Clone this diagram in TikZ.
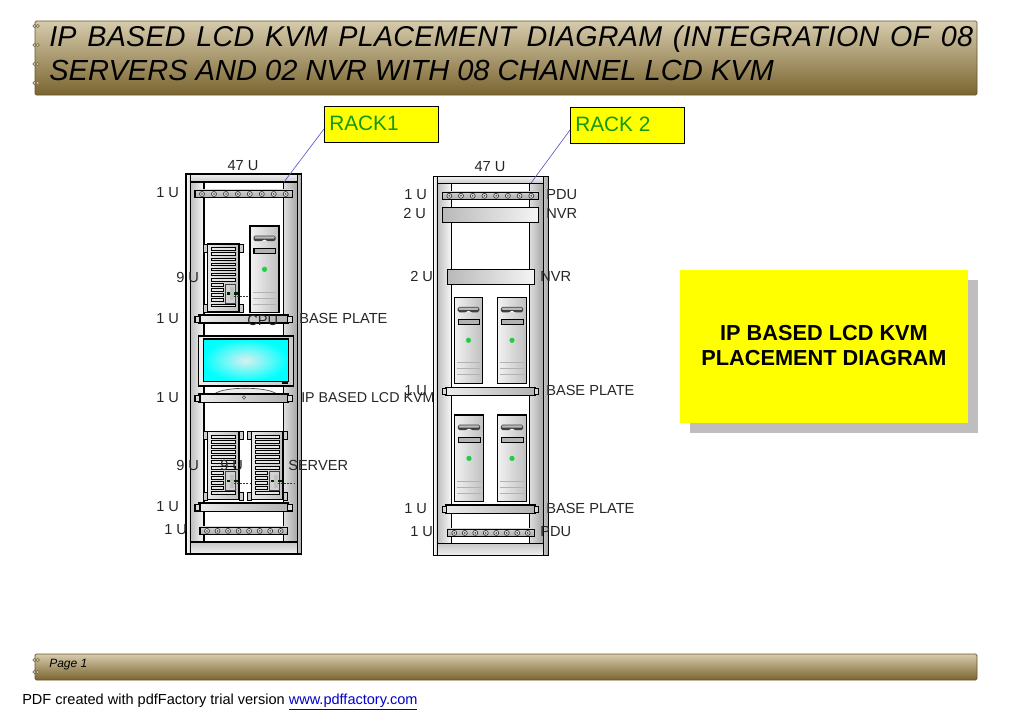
\documentclass[tikz,border=0pt]{standalone}
\usepackage{fontspec}
\setmainfont{Liberation Sans}
\newfontfamily\titlefam[LetterSpace=1,WordSpace=1.3]{Liberation Sans}
\definecolor{tan1}{HTML}{7A6530}
\definecolor{tan0}{HTML}{D6CBAC}
\definecolor{pureyellow}{HTML}{FFFF00}
\definecolor{purecyan}{HTML}{00FFFF}
\definecolor{screenmid}{HTML}{DCEFEF}
\definecolor{shadowgrey}{HTML}{BEBEBE}
\definecolor{ledgreen}{HTML}{22CC44}
\definecolor{racktext}{HTML}{119A11}
\definecolor{leader}{HTML}{5A5ACD}
\definecolor{linkblue}{HTML}{0000CC}
\tikzset{
  lab/.style={font=\fontsize{10.95pt}{12pt}\selectfont,inner sep=0pt,anchor=west,text=black!85,yshift=-0.6pt},
  labc/.style={lab,anchor=center},
  ln/.style={draw=black,line width=0.9pt},
  titletext/.style={inner sep=0pt,anchor=base west,font=\titlefam\fontsize{21.5pt}{24pt}\selectfont\itshape},
  titleplain/.style={inner sep=0pt,anchor=base west,font=\fontsize{21.8pt}{24pt}\selectfont\itshape},
  callout/.style={draw=black,line width=0.7pt,fill=pureyellow,minimum width=114*0.75pt,minimum height=35.5*0.75pt,inner sep=0pt,anchor=north west},
  callouttext/.style={inner sep=0pt,anchor=west,text=racktext,font=\fontsize{15.6pt}{16pt}\selectfont},
}
\newcommand{\rings}[2]{\foreach \ry in {#2}{\draw[tan1!60!gray,line width=0.5pt,fill=tan0!60!white] (#1-1.5,\ry) circle[radius=1.6] (#1+1.7,\ry) circle[radius=1.6];}}
% x0..x5, ytop, ybar, ybarbottom
\newcommand{\rack}[9]{
  \fill[white] (#1,#7) rectangle (#6,#9+12);
  \shade[left color=gray!50,right color=white!95!gray] (#2,#8) rectangle (#3,#9);
  \shade[left color=gray!25,right color=gray!70] (#4,#8) rectangle (#5,#9);
  \shade[left color=white,right color=gray!35] (#1,#7) rectangle (#2,#9+12);
  \shade[left color=gray!45,right color=gray!75] (#5,#7) rectangle (#6,#9+12);
  \shade[top color=gray!12,bottom color=gray!40] (#2,#7) rectangle (#5,#8);
  \shade[top color=gray!45,bottom color=gray!12] (#2,#9) rectangle (#5,#9+12);
  \draw[ln] (#1,#7) rectangle (#6,#9+12);
  \draw[ln] (#2,#7) -- (#2,#9+12) (#5,#7) -- (#5,#9+12);
  \draw[ln] (#2,#8) -- (#5,#8) (#3,#8) -- (#3,#9) (#4,#8) -- (#4,#9) (#2,#9) -- (#5,#9);
}
% x0 y0 x1 y1
\newcommand{\pdu}[4]{
  \shade[top color=gray!35,bottom color=gray!65] (#1,#2) rectangle (#3,#4);
  \draw[black,line width=0.8pt] (#1,#2+1) rectangle (#3,#4);
  \pgfmathsetmacro{\pdustep}{(#3-#1-14)/7}
  \foreach \pi in {0,...,7}{
    \draw[gray!45!black,line width=0.5pt,fill=gray!25] ({#1+7+\pi*\pdustep},{(#2+#4)/2+0.4}) circle[radius=2.5];
    \fill[gray!50!black] ({#1+7+\pi*\pdustep},{(#2+#4)/2+0.4}) circle[radius=0.9];
  }
}
\newcommand{\plate}[5]{% x0 y0 x1 y1 ear
  \shade[left color=gray!15,right color=gray!60] (#1+#5-1,#2) rectangle (#3-#5+1,#4);
  \draw[ln] (#1+#5-1,#2) rectangle (#3-#5+1,#4);
  \draw[ln,fill=gray!30] (#1,#2+1.3) rectangle (#1+#5,#4-0.7);
  \draw[ln,fill=gray!30] (#3-#5,#2+1.3) rectangle (#3,#4-0.7);
}
\newcommand{\slab}[4]{% x0 y0 x1 y1
  \shade[left color=gray!55,right color=gray!8] (#1,#2) rectangle (#3,#4);
  \draw[ln] (#1,#2) rectangle (#3,#4);
}
% tower x y w h
\newcommand{\tower}[4]{
  \begin{scope}[shift={(#1,#2)},xscale=#3/29,yscale=#4/86]
    \shade[left color=gray!10,right color=gray!50] (0,0) rectangle (29,86);
    \draw[ln] (0,0) rectangle (29,86);
    \fill[gray!50!black,rounded corners=1.2pt] (3.5,9.5) rectangle (25.5,15);
    \fill[gray!55,rounded corners=0.6pt] (4.5,10.3) rectangle (24.5,12.6);
    \fill[white] (11,15.2) .. controls (13,13) and (16,13) .. (18,15.2) -- cycle;
    \draw[black,line width=0.9pt,fill=gray!60] (4,22) rectangle (25.5,27);
    \fill[ledgreen] (14.5,43) circle[radius=2.6];
    \draw[gray!60,line width=0.7pt] (3,65.5) -- (26,65.5) (3,71.5) -- (26,71.5) (3,77.5) -- (26,77.5);
  \end{scope}
}
% rack server: x y (31.5 x 68)
\newcommand{\rserver}[2]{
  \begin{scope}[shift={(#1,#2)}]
    \shade[left color=gray!18,right color=gray!50] (0,0) rectangle (31.5,68);
    \draw[ln] (0,0) rectangle (31.5,68);
    \foreach \ex in {-4,31.5}{\foreach \ey in {0,60.5}{
      \draw[black,line width=0.6pt,fill=gray!40] (\ex,\ey) rectangle (\ex+4,\ey+8);}}
    \foreach \sy in {3.5,8.6,14,19,24,29,34.6}{
      \draw[black,line width=0.75pt,fill=gray!20] (3.5,\sy) rectangle (27.5,\sy+2.8);}
    \foreach \sy in {39.6,44.6,49.6,54.6}{
      \draw[black,line width=0.75pt,fill=gray!20] (3.5,\sy) rectangle (16,\sy+2.8);}
    \draw[black,line width=0.75pt,fill=gray!20] (3.5,60) rectangle (27.5,62.8);
    \draw[gray!50!black,line width=0.6pt,fill=gray!35] (17.5,40) rectangle (27.5,59);
    \fill[green!15!black] (19,48) rectangle (30,50.5);
    \fill[gray!50] (22.5,43) rectangle (26,56);
    \draw[gray!40!black,line width=0.7pt,dash pattern=on 1.6pt off 0.8pt] (26,52) -- (43,52);
  \end{scope}
}
\begin{document}
\begin{tikzpicture}[x=0.75pt,y=-0.75pt]
\useasboundingbox (0,0) rectangle (1017,719);
\fill[white] (0,0) rectangle (1017,719);
% header and footer bands
\shade[top color=tan0,bottom color=tan1,rounded corners=1pt] (35,21) rectangle (977,95);
\draw[tan1!85!black,line width=0.5pt,rounded corners=1pt] (35,21) rectangle (977,95);
\rings{36}{26,45,64,83}
\shade[top color=tan0,bottom color=tan1,rounded corners=1pt] (35,654) rectangle (977,680);
\draw[tan1!85!black,line width=0.5pt,rounded corners=1pt] (35,654) rectangle (977,680);
\rings{36}{660,672}
\node[titletext] (titleone) at (49,46) {IP BASED LCD KVM PLACEMENT DIAGRAM (INTEGRATION OF 08};
\node[titleplain] (titletwo) at (49,80.5) {SERVERS AND 02 NVR WITH 08 CHANNEL LCD KVM};
\node[inner sep=0pt,anchor=west,font=\fontsize{9pt}{11pt}\selectfont\itshape] (pagenum) at (49,665) {Page 1};
\node[inner sep=0pt,anchor=west,font=\fontsize{10.9pt}{12pt}\selectfont] (pdfnote) at (22,702) {PDF created with pdfFactory trial version \textcolor{linkblue}{\underline{www.pdffactory.com}}};
% rack 1
\rack{186}{190.7}{204}{283.5}{297.5}{301.7}{174}{182}{542}
\pdu{195}{189.5}{292.7}{197.7}
\rserver{207.5}{244}
\tower{250}{226}{29}{86.7}
\plate{195}{315}{292.5}{323}{5}
% monitor
\shade[left color=gray!12,right color=gray!40] (198.3,336) rectangle (293.3,386);
\draw[ln] (198.3,336) rectangle (293.3,386);
\shade[inner color=screenmid,outer color=purecyan] (203.3,339) rectangle (288.3,381.7);
\draw[ln] (203.3,339) rectangle (288.3,381.7);
\fill[black] (282,381.7) rectangle (288.3,384);
\draw[gray!60!black,line width=0.5pt,fill=gray!15] (215,393.5) .. controls (225,386.5) and (266,386.5) .. (276,393.5) -- cycle;
\plate{195}{394}{292.5}{402.3}{5}
\draw[gray!60!black,line width=0.4pt,fill=gray!25] (244,395.6) -- (245.6,397.4) -- (244,399.2) -- (242.4,397.4) -- cycle;
\rserver{207.5}{431.7}
\rserver{251.5}{431.7}
\plate{195}{503}{292.5}{511.7}{5}
\pdu{200}{526.7}{287.7}{534.3}
% rack 2
\rack{433.3}{437.3}{451.7}{529.3}{543.3}{548.7}{176.7}{183.3}{543.3}
\pdu{442.3}{191.5}{538.3}{199.3}
\slab{442.3}{207.3}{538.7}{222.3}
\slab{447.3}{269.3}{534.7}{284.7}
\tower{454.3}{297.3}{28.4}{86}
\tower{497.3}{297.3}{29.4}{86}
\plate{442.3}{387.3}{538.7}{395.3}{4.5}
\tower{454.3}{415}{29.4}{86.7}
\tower{497.3}{415}{29.4}{86.7}
\plate{442.3}{505}{538.7}{513.3}{4.5}
\pdu{447.3}{528.3}{534.7}{536.7}
% yellow panel
\fill[shadowgrey] (690,280) rectangle (978,433);
\node[draw=none,fill=pureyellow,minimum width=288*0.75pt,minimum height=153*0.75pt,inner sep=0pt,anchor=north west] (panel) at (680,270) {};
\node[inner sep=0pt,align=center,font=\fontsize{16.3pt}{18.75pt}\selectfont\bfseries] (paneltext) at (824,346) {IP BASED LCD KVM\\PLACEMENT DIAGRAM};
% callouts
\node[callout] (rackone) at (324,106) {};
\node[callout] (racktwo) at (570,107) {};
\node[callouttext] (rackonetext) at (329,123) {RACK1};
\node[callouttext] (racktwotext) at (575,124) {RACK 2};
\coordinate (rackonefoot) at (284,182);
\coordinate (racktwofoot) at (531,183);
\coordinate (rackonestart) at (324,129);
\coordinate (racktwostart) at (570,130);
\draw[leader,line width=0.5pt] (rackonestart) -- (rackonefoot);
\draw[leader,line width=0.5pt] (racktwostart) -- (racktwofoot);
% labels rack 1
\node[labc] (a1) at (243,165) {47 U};
\node[lab] (a2) at (156,192) {1 U};
\node[lab] (a3) at (176,277) {9 U};
\node[lab] (a4) at (156,318) {1 U};
\node[lab] (a5) at (247,320) {CPU};
\node[lab] (a6) at (299,318) {BASE PLATE};
\node[lab,font=\fontsize{10.7pt}{12pt}\selectfont] (a8) at (301,397) {IP BASED LCD KVM};
\node[lab] (a7) at (156,397) {1 U};
\node[lab] (a9) at (176,465) {9 U};
\node[lab] (a10) at (220,465) {9 U};
\node[lab] (a11) at (288,465) {SERVER};
\node[lab] (a12) at (156,506) {1 U};
\node[lab] (a13) at (164,529) {1 U};
% labels rack 2
\node[labc] (b1) at (490,166) {47 U};
\node[lab] (b2) at (404,194) {1 U};
\node[lab] (b3) at (403,213) {2 U};
\node[lab] (b4) at (410,276) {2 U};
\node[lab] (b5) at (546,194) {PDU};
\node[lab] (b6) at (546,213) {NVR};
\node[lab] (b7) at (540,276) {NVR};
\node[lab] (b8) at (404,390) {1 U};
\node[lab] (b9) at (546,390) {BASE PLATE};
\node[lab] (b10) at (404,508) {1 U};
\node[lab] (b11) at (546,508) {BASE PLATE};
\node[lab] (b12) at (410,531) {1 U};
\node[lab] (b13) at (540,531) {PDU};
\end{tikzpicture}
\end{document}
